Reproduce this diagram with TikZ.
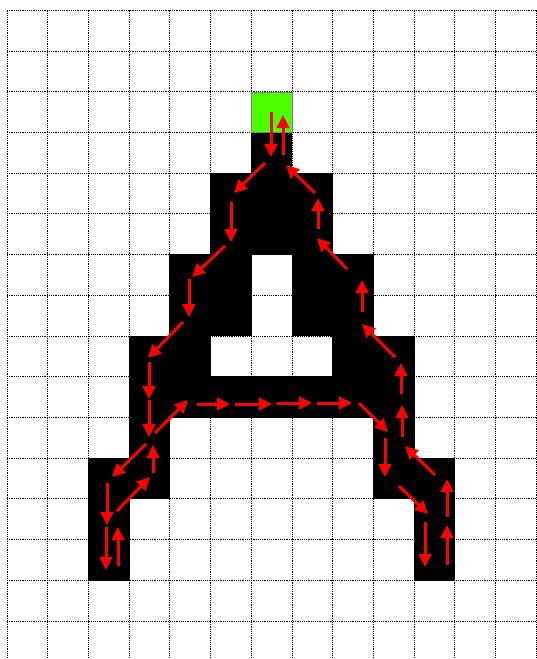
\documentclass[tikz,border=0pt]{standalone}
\usetikzlibrary{arrows.meta}
\definecolor{cellgreen}{RGB}{76,255,0}
\tikzset{
  gridline/.style={black, line width=1pt, dash pattern=on 1.2pt off 1pt},
  blackcell/.style={fill=black, draw=none},
  startcell/.style={fill=cellgreen, draw=black!50, line width=0.6pt},
  walk/.style={red, line width=3pt, -{Triangle[length=13pt,width=12.5pt]}}
}
\begin{document}
\begin{tikzpicture}[x=1pt,y=-1pt]
\useasboundingbox (0,0) rectangle (536,659);
\def\gx{7}\def\gy{10.3}\def\gs{40.72}
% grid
\foreach \i in {0,...,13}{
  \draw[gridline] ({\gx+\gs*\i},\gy) -- ({\gx+\gs*\i},659);
}
\foreach \j in {0,...,15}{
  \draw[gridline] (\gx,{\gy+\gs*\j}) -- (536,{\gy+\gs*\j});
}
% black cells (column/row)
\foreach \c/\r in {6/3,5/4,6/4,7/4,5/5,6/5,7/5,4/6,5/6,7/6,8/6,4/7,5/7,7/7,8/7,
  3/8,4/8,8/8,9/8,3/9,4/9,5/9,6/9,7/9,8/9,9/9,3/10,9/10,2/11,3/11,9/11,10/11,
  2/12,10/12,2/13,10/13}{
  \fill[blackcell] ({\gx+\gs*\c-0.4},{\gy+\gs*\r-0.4}) rectangle ({\gx+\gs*(\c+1)+0.4},{\gy+\gs*(\r+1)+0.4});
}
% start cell
\node[startcell, minimum size=\gs pt, inner sep=0pt, anchor=north west] (start) at ({\gx+\gs*6},{\gy+\gs*2}) {};
% walk arrows
\foreach \ax/\ay/\bx/\by in {
  271/112/271/157, 265/163/234/193, 231/202/231/242, 225/246/192/277,
  189/279/189/317, 183/322/148/358, 149/362/149/399, 149/400/149/437,
  146/444/112/477, 107/483/107/525, 106/527/106/570, 118/566/118/527,
  117/511/150/477, 153/473/153/445, 155/433/188/400, 197/404/230/404,
  235/404/272/404, 277/403/312/403, 317/403/352/403, 359/403/388/432,
  385/438/385/477, 399/486/428/514, 425/522/425/567, 447/565/447/525,
  447/517/447/479, 435/475/405/446, 402/437/402/405, 401/394/401/363,
  395/357/362/324, 362/312/362/280, 347/269/317/238, 318/229/318/198,
  315/193/286/165, 283/155/283/115}{
  \draw[walk] (\ax,\ay) -- (\bx,\by);
}
\end{tikzpicture}
\end{document}
